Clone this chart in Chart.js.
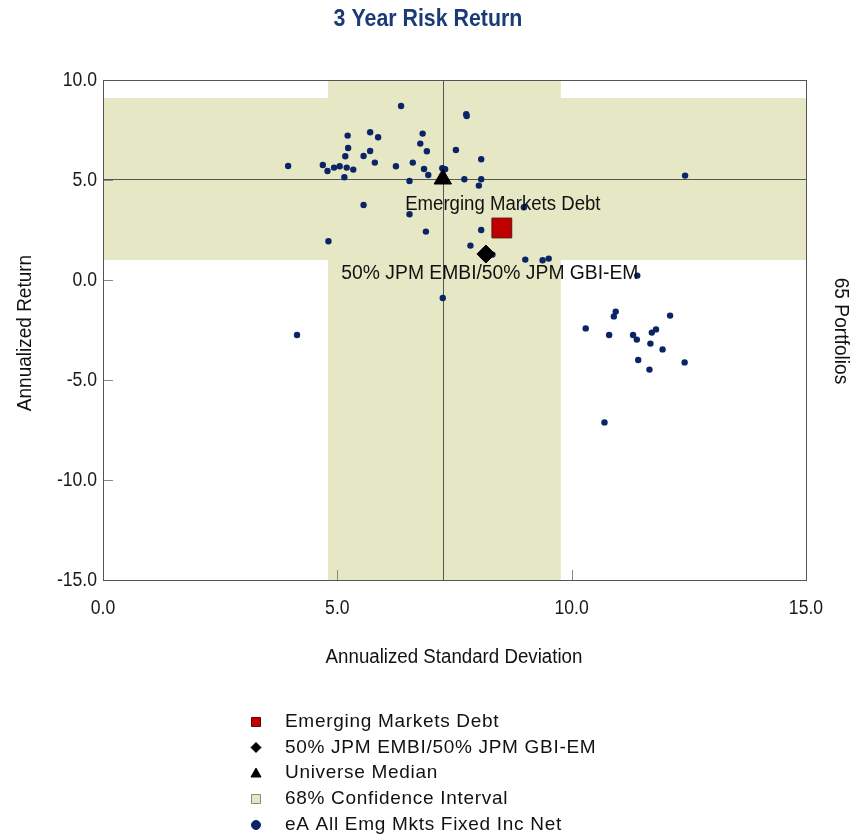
<!DOCTYPE html>
<html>
<head>
<meta charset="utf-8">
<script src="https://cdn.jsdelivr.net/npm/chart.js@4.4.1/dist/chart.umd.min.js"></script>
<style>
html, body { margin: 0; padding: 0; background: #fff; }
</style>
</head>
<body>
<canvas id="riskChart" width="852" height="840"></canvas>
<script>
// du lieu doc tu hinh (3 nam)
const universeStdDev = [6.36, 7.75, 7.76, 5.22, 5.70, 5.87, 6.82, 6.77, 6.91, 7.53,
  5.23, 5.70, 5.56, 5.17, 8.07, 3.95, 4.69, 4.79, 4.93, 5.05,
  5.20, 5.34, 5.80, 6.25, 6.61, 6.85, 6.94, 7.24, 7.30, 5.15,
  6.54, 7.71, 8.07, 8.02, 5.56, 6.54, 8.07, 6.89, 4.81, 7.84,
  8.31, 9.01, 9.38, 9.51, 8.98, 7.25, 12.42, 11.40, 10.94, 10.90,
  12.10, 10.30, 10.80, 11.31, 11.39, 11.80, 11.71, 11.68, 11.94, 11.42,
  12.41, 11.66, 10.70, 4.14];
const universeReturn = [8.70, 8.29, 8.20, 7.22, 7.39, 7.14, 7.32, 6.82, 6.44, 6.50,
  6.60, 6.45, 6.20, 6.19, 6.04, 5.70, 5.75, 5.45, 5.62, 5.69,
  5.62, 5.52, 5.87, 5.69, 5.87, 5.55, 5.25, 5.59, 5.54, 5.14,
  4.95, 5.04, 5.04, 4.72, 3.75, 3.29, 2.50, 2.42, 1.94, 1.72,
  1.27, 1.02, 0.99, 1.07, 3.64, -0.90, 5.22, 0.22, -1.58, -1.82,
  -1.78, -2.42, -2.75, -2.75, -2.98, -2.47, -2.63, -3.18, -3.47, -4.00,
  -4.12, -4.48, -7.12, -2.75];
const emdPoint = [8.51, 2.6];
const benchPoint = [8.17, 1.3];
const medianPoint = [7.25, 5.05];
const confStdDev = [4.8, 9.77];
const confReturn = [1.0, 9.1];
const xTicks = [0, 5, 10, 15];
const yTicks = [-15, -10, -5, 0, 5, 10];
const portfolioCount = 65;

const fontFam = "'Liberation Sans', Arial, sans-serif";
const navy = '#0a2466';
const bandColor = '#e6e8c5';

// chu bi nen ngang (gia lap Arial Narrow)
function squeezeText(ctx, text, x, y, sx, rot) {
  ctx.save();
  ctx.translate(x, y);
  if (rot) ctx.rotate(rot);
  ctx.scale(sx, 1);
  ctx.fillText(text, 0, 0);
  ctx.restore();
}

const bandPlugin = {
  id: 'band',
  beforeDatasetsDraw(chart) {
    const { ctx, chartArea: a, scales: { x, y } } = chart;
    ctx.save();
    ctx.fillStyle = bandColor;
    const bx1 = x.getPixelForValue(confStdDev[0]), bx2 = x.getPixelForValue(confStdDev[1]);
    const by1 = y.getPixelForValue(confReturn[1]), by2 = y.getPixelForValue(confReturn[0]);
    ctx.fillRect(bx1, a.top, bx2 - bx1, a.bottom - a.top);
    ctx.fillRect(a.left, by1, a.right - a.left, by2 - by1);
    ctx.strokeStyle = '#555';
    ctx.lineWidth = 1;
    const mx = Math.round(x.getPixelForValue(medianPoint[0])) + 0.5;
    const my = Math.round(y.getPixelForValue(medianPoint[1])) + 0.5;
    ctx.beginPath();
    ctx.moveTo(mx, a.top); ctx.lineTo(mx, a.bottom);
    ctx.moveTo(a.left, my); ctx.lineTo(a.right, my);
    ctx.stroke();
    // vach chia ben trong
    ctx.strokeStyle = '#888';
    ctx.beginPath();
    xTicks.slice(1, -1).forEach(v => {
      const px = Math.round(x.getPixelForValue(v)) + 0.5;
      ctx.moveTo(px, a.bottom); ctx.lineTo(px, a.bottom - 10);
    });
    yTicks.slice(1, -1).forEach(v => {
      const py = Math.round(y.getPixelForValue(v)) + 0.5;
      ctx.moveTo(a.left, py); ctx.lineTo(a.left + 10, py);
    });
    ctx.stroke();
    ctx.restore();
  },
  afterDatasetsDraw(chart) {
    const { ctx, chartArea: a, scales: { x, y } } = chart;
    ctx.save();
    ctx.strokeStyle = '#555';
    ctx.lineWidth = 1;
    ctx.strokeRect(a.left + 0.5, a.top + 0.5, a.right - a.left, a.bottom - a.top);
    ctx.fillStyle = '#111';
    ctx.font = '20px ' + fontFam;
    ctx.textAlign = 'center';
    ctx.textBaseline = 'middle';
    squeezeText(ctx, chart.data.datasets[0].label, x.getPixelForValue(emdPoint[0]) + 1, y.getPixelForValue(emdPoint[1]) - 24, 0.93);
    squeezeText(ctx, chart.data.datasets[1].label, x.getPixelForValue(benchPoint[0]) + 4, y.getPixelForValue(benchPoint[1]) + 19, 0.965);

    // nhan truc
    ctx.fillStyle = '#1a1a1a';
    xTicks.forEach(v => squeezeText(ctx, v.toFixed(1), x.getPixelForValue(v), a.bottom + 28, 0.88));
    ctx.textAlign = 'right';
    yTicks.forEach(v => squeezeText(ctx, v.toFixed(1), a.left - 6, y.getPixelForValue(v), 0.88));
    ctx.restore();
  },
  afterDraw(chart) {
    const { ctx } = chart;
    ctx.save();
    ctx.textAlign = 'center';
    ctx.textBaseline = 'middle';
    ctx.fillStyle = '#1b3a78';
    ctx.font = 'bold 24px ' + fontFam;
    squeezeText(ctx, '3 Year Risk Return', 428, 19, 0.89);
    ctx.fillStyle = '#111';
    ctx.font = '20px ' + fontFam;
    squeezeText(ctx, 'Annualized Standard Deviation', 454, 657, 0.935);
    squeezeText(ctx, 'Annualized Return', 25, 333, 0.95, -Math.PI / 2);
    squeezeText(ctx, portfolioCount + ' Portfolios', 841, 331, 0.96, Math.PI / 2);

    // chu giai
    const rows = [
      { label: chart.data.datasets[0].label, kind: 'rect', fill: '#c00000', stroke: '#600' },
      { label: chart.data.datasets[1].label, kind: 'diamond', fill: '#000', stroke: '#000' },
      { label: chart.data.datasets[2].label, kind: 'tri', fill: '#000', stroke: '#000' },
      { label: '68% Confidence Interval', kind: 'rect', fill: bandColor, stroke: '#888' },
      { label: chart.data.datasets[3].label, kind: 'circle', fill: navy, stroke: navy }
    ];
    const ys = [722, 747.5, 773, 799, 825];
    ctx.textAlign = 'left';
    ctx.font = '19px ' + fontFam;
    ctx.letterSpacing = '0.7px';
    rows.forEach((r, i) => {
      const cy = ys[i], cx = 256;
      ctx.fillStyle = r.fill;
      ctx.strokeStyle = r.stroke;
      ctx.lineWidth = 1;
      ctx.beginPath();
      if (r.kind === 'rect') {
        ctx.rect(cx - 4.5, cy - 4.5, 9, 9);
      } else if (r.kind === 'diamond') {
        ctx.moveTo(cx, cy - 5); ctx.lineTo(cx + 5, cy); ctx.lineTo(cx, cy + 5); ctx.lineTo(cx - 5, cy);
        ctx.closePath();
      } else if (r.kind === 'tri') {
        ctx.moveTo(cx, cy - 5); ctx.lineTo(cx + 5, cy + 4); ctx.lineTo(cx - 5, cy + 4);
        ctx.closePath();
      } else {
        ctx.arc(cx, cy, 4.5, 0, Math.PI * 2);
      }
      ctx.fill();
      ctx.stroke();
      ctx.fillStyle = '#111';
      ctx.fillText(r.label, 285, cy);
    });
    ctx.restore();
  }
};

const ctx = document.getElementById('riskChart');
new Chart(ctx, {
  type: 'scatter',
  data: {
    datasets: [
      {
        label: 'Emerging Markets Debt',
        data: [{ x: emdPoint[0], y: emdPoint[1] }],
        pointStyle: 'rect',
        pointRadius: 14,
        backgroundColor: '#c00000',
        borderColor: '#5a1010',
        borderWidth: 1
      },
      {
        label: '50% JPM EMBI/50% JPM GBI-EM',
        data: [{ x: benchPoint[0], y: benchPoint[1] }],
        pointStyle: 'rectRot',
        pointRadius: 9,
        backgroundColor: '#000',
        borderColor: '#000',
        borderWidth: 1
      },
      {
        label: 'Universe Median',
        data: [{ x: medianPoint[0], y: medianPoint[1] }],
        pointStyle: 'triangle',
        pointRadius: 10,
        backgroundColor: '#000',
        borderColor: '#000',
        borderWidth: 1
      },
      {
        label: 'eA All Emg Mkts Fixed Inc Net',
        data: universeStdDev.map((v, i) => ({ x: v, y: universeReturn[i] })),
        pointStyle: 'circle',
        pointRadius: 3.2,
        backgroundColor: navy,
        borderColor: navy,
        borderWidth: 0
      }
    ]
  },
  options: {
    responsive: false,
    devicePixelRatio: 1,
    animation: false,
    layout: { padding: { left: 0, top: 80, right: 46, bottom: 220 } },
    plugins: {
      legend: { display: false },
      tooltip: { enabled: false },
      title: { display: false }
    },
    scales: {
      x: {
        type: 'linear',
        min: 0,
        max: 15,
        afterBuildTicks: s => { s.ticks = xTicks.map(v => ({ value: v })); },
        afterFit: s => { s.height = 40; },
        grid: { display: false, drawTicks: false },
        border: { display: false },
        ticks: { display: false }
      },
      y: {
        type: 'linear',
        min: -15,
        max: 10,
        afterBuildTicks: s => { s.ticks = yTicks.map(v => ({ value: v })); },
        afterFit: s => { s.width = 103; },
        grid: { display: false, drawTicks: false },
        border: { display: false },
        ticks: { display: false }
      }
    }
  },
  plugins: [bandPlugin]
});
</script>
</body>
</html>
